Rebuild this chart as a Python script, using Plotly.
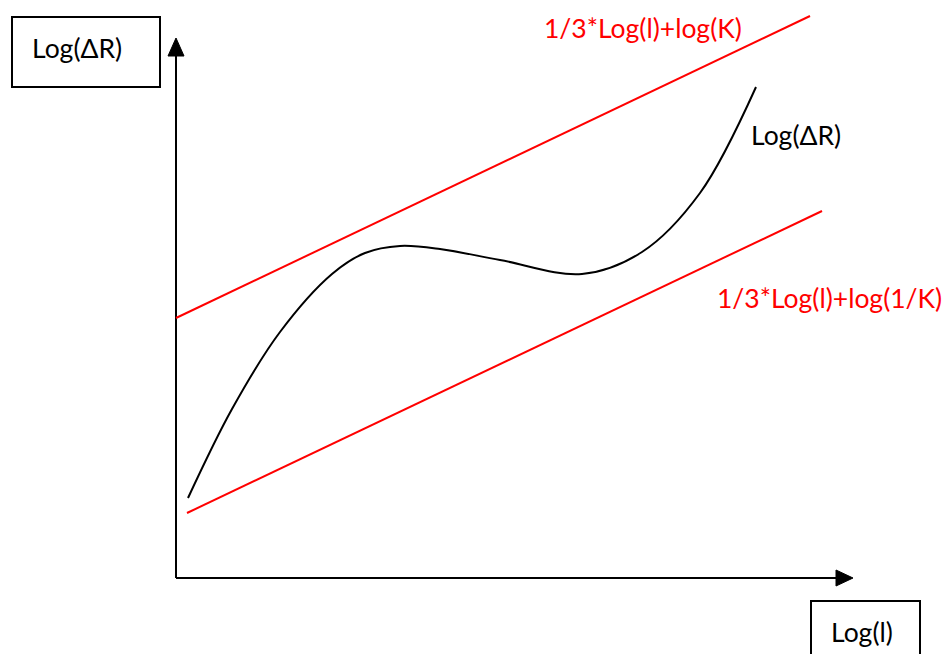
import plotly.graph_objects as go

# Schematic data (pixel-space of the 950x654 drawing)
curve_x = [188, 232, 280, 332, 365, 400, 440, 500, 582, 642, 700, 756]
curve_y = [498, 409, 332, 274, 253, 246, 249, 260, 274, 252, 193, 87]
upper_x = [176, 810]
upper_y = [318, 16]
lower_x = [187, 822]
lower_y = [513, 211]
yaxis_x = [176, 176]
yaxis_y = [578, 52]
xaxis_x = [176, 840]
xaxis_y = [578, 578]

label_upper = "1/3*Log(l)+log(K)"
label_lower = "1/3*Log(l)+log(1/K)"
label_curve = "Log(ΔR)"
label_ybox = "Log(ΔR)"
label_xbox = "Log(l)"

FONT = "Lato"
FS = 26.5

fig = go.Figure()
fig.add_trace(go.Scatter(x=yaxis_x, y=yaxis_y, mode="lines", line=dict(color="black", width=2), hoverinfo="skip"))
fig.add_trace(go.Scatter(x=xaxis_x, y=xaxis_y, mode="lines", line=dict(color="black", width=2), hoverinfo="skip"))
# arrowheads
fig.add_trace(go.Scatter(x=[168, 176, 184, 168], y=[56, 38, 56, 56], mode="lines", fill="toself",
                         fillcolor="black", line=dict(color="black", width=1), hoverinfo="skip"))
fig.add_trace(go.Scatter(x=[836, 853, 836, 836], y=[570, 578, 586, 570], mode="lines", fill="toself",
                         fillcolor="black", line=dict(color="black", width=1), hoverinfo="skip"))
fig.add_trace(go.Scatter(x=upper_x, y=upper_y, mode="lines", line=dict(color="#ff0000", width=2), hoverinfo="skip"))
fig.add_trace(go.Scatter(x=lower_x, y=lower_y, mode="lines", line=dict(color="#ff0000", width=2), hoverinfo="skip"))
fig.add_trace(go.Scatter(x=curve_x, y=curve_y, mode="lines", line=dict(color="black", width=2, shape="spline", smoothing=1.0), hoverinfo="skip"))

fig.add_shape(type="rect", x0=12, x1=160, y0=17, y1=87, line=dict(color="black", width=2), xref="x", yref="y")
fig.add_shape(type="rect", x0=811, x1=920, y0=601, y1=670, line=dict(color="black", width=2), xref="x", yref="y")

def ann(x, y, text, color):
    fig.add_annotation(x=x, y=y, text=text, showarrow=False, xanchor="left", yanchor="middle",
                       font=dict(family=FONT, size=FS, color=color))

ann(542, 28, label_upper, "#ff0000")
ann(715, 298, label_lower, "#ff0000")
ann(749, 135, label_curve, "black")
ann(30, 48, label_ybox, "black")
ann(829, 632, label_xbox, "black")

fig.update_layout(
    width=950, height=654, margin=dict(l=0, r=0, t=0, b=0),
    paper_bgcolor="white", plot_bgcolor="white", showlegend=False,
    xaxis=dict(range=[0, 950], visible=False, fixedrange=True),
    yaxis=dict(range=[654, 0], visible=False, fixedrange=True),
)
fig.write_html("out.html", config={"displayModeBar": False},
               post_script="document.body.style.margin='0px';")
